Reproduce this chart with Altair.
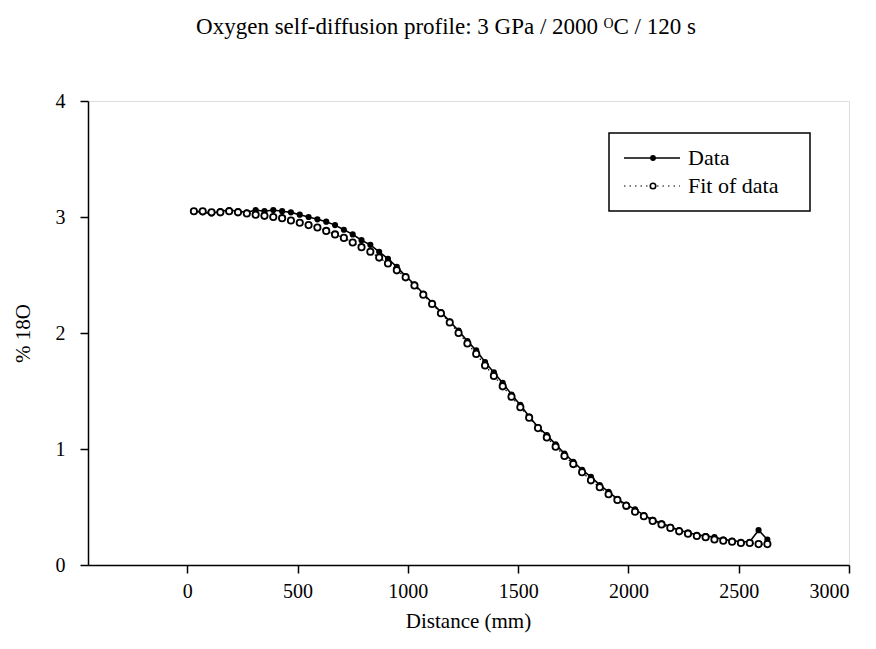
import altair as alt
import pandas as pd

# ---- data ----
distance = [30, 70, 110, 150, 190, 230, 270, 310, 350, 390, 430, 470, 510, 550, 590,
            630, 670, 710, 750, 790, 830, 870, 910, 950, 990, 1030, 1070, 1110, 1150,
            1190, 1230, 1270, 1310, 1350, 1390, 1430, 1470, 1510, 1550, 1590, 1630,
            1670, 1710, 1750, 1790, 1830, 1870, 1910, 1950, 1990, 2030, 2070, 2110,
            2150, 2190, 2230, 2270, 2310, 2350, 2390, 2430, 2470, 2510, 2550, 2590, 2630]

data_vals = [3.05, 3.04, 3.03, 3.05, 3.06, 3.05, 3.04, 3.06, 3.05, 3.06, 3.05, 3.04, 3.02,
             3.00, 2.98, 2.96, 2.93, 2.89, 2.85, 2.80, 2.76, 2.70, 2.64, 2.57, 2.49, 2.42,
             2.34, 2.26, 2.18, 2.10, 2.02, 1.93, 1.85, 1.75, 1.66, 1.57, 1.47, 1.38, 1.28,
             1.19, 1.12, 1.04, 0.96, 0.89, 0.82, 0.76, 0.69, 0.63, 0.57, 0.52, 0.48, 0.43,
             0.39, 0.36, 0.33, 0.30, 0.28, 0.26, 0.25, 0.24, 0.22, 0.21, 0.20, 0.20, 0.30, 0.22]

fit_vals = [3.05, 3.05, 3.04, 3.04, 3.05, 3.04, 3.03, 3.02, 3.01, 3.00, 2.99, 2.97, 2.95,
            2.93, 2.91, 2.88, 2.85, 2.82, 2.78, 2.74, 2.70, 2.65, 2.60, 2.54, 2.48, 2.41,
            2.33, 2.25, 2.17, 2.09, 2.00, 1.91, 1.82, 1.72, 1.63, 1.54, 1.45, 1.36, 1.27,
            1.18, 1.10, 1.02, 0.94, 0.87, 0.80, 0.73, 0.67, 0.61, 0.56, 0.51, 0.46, 0.42,
            0.38, 0.35, 0.32, 0.29, 0.27, 0.25, 0.24, 0.22, 0.21, 0.20, 0.19, 0.19, 0.18, 0.18]

x_ticks = [0, 500, 1000, 1500, 2000, 2500, 3000]
y_ticks = [0, 1, 2, 3, 4]
legend_labels = ["Data", "Fit of data"]
title_text = "Oxygen self-diffusion profile: 3 GPa / 2000 \u1d3cC / 120 s"

df = pd.DataFrame({"distance": distance, "data": data_vals, "fit": fit_vals})

FONT = "Liberation Serif"
W, H = 761, 464

xscale = alt.Scale(domain=[-450, 3000], nice=False, zero=False)
yscale = alt.Scale(domain=[0, 4], nice=False)

xaxis = alt.Axis(values=x_ticks, format="d", title="Distance (mm)", grid=False, tickSize=8,
                 tickColor="black", domainColor="black", domainWidth=1.5, tickWidth=1.5,
                 labelFont=FONT, labelFontSize=20, labelColor="black", labelPadding=8,
                 titleFont=FONT, titleFontSize=21, titleFontWeight="normal", titleColor="black",
                 titleX=380, titleY=56, titleBaseline="middle", titleAlign="center")
yaxis = alt.Axis(values=y_ticks, format="d", title="% 18O", grid=False, tickSize=8,
                 tickColor="black", domainColor="black", domainWidth=1.5, tickWidth=1.5,
                 labelFont=FONT, labelFontSize=20, labelColor="black", labelPadding=15,
                 titleFont=FONT, titleFontSize=21, titleFontWeight="normal", titleColor="black",
                 titleX=-65, titleY=232, titleBaseline="middle", titleAlign="center")

base = alt.Chart(df)

data_line = base.mark_line(color="black", strokeWidth=1.6).encode(
    x=alt.X("distance:Q", scale=xscale, axis=xaxis),
    y=alt.Y("data:Q", scale=yscale, axis=yaxis),
)
data_pts = base.mark_point(filled=True, color="black", size=38, opacity=1).encode(
    x=alt.X("distance:Q", scale=xscale), y=alt.Y("data:Q", scale=yscale))
fit_line = base.mark_line(color="black", strokeWidth=1.2, strokeDash=[1.5, 3]).encode(
    x=alt.X("distance:Q", scale=xscale), y=alt.Y("fit:Q", scale=yscale))
fit_pts = base.mark_point(filled=False, fill="white", fillOpacity=1, stroke="black",
                          strokeWidth=1.8, size=40, opacity=1).encode(
    x=alt.X("distance:Q", scale=xscale), y=alt.Y("fit:Q", scale=yscale))

one = alt.InlineData(values=[{"k": 1}])

# legend (decoration, in pixels)
box = alt.Chart(one).mark_rect(fill="white", stroke="black", strokeWidth=1.5).encode(
    x=alt.value(521), x2=alt.value(722), y=alt.value(32), y2=alt.value(110))
leg_line1 = alt.Chart(one).mark_rule(color="black", strokeWidth=1.6).encode(
    x=alt.value(536), x2=alt.value(592), y=alt.value(57))
leg_pt1 = alt.Chart(one).mark_point(filled=True, color="black", size=34, opacity=1).encode(
    x=alt.value(565), y=alt.value(57))
leg_line2 = alt.Chart(one).mark_rule(color="black", strokeWidth=1.2, strokeDash=[1.5, 4]).encode(
    x=alt.value(536), x2=alt.value(592), y=alt.value(85))
leg_pt2 = alt.Chart(one).mark_point(filled=False, fill="white", fillOpacity=1, stroke="black",
                                    strokeWidth=1.6, size=30, opacity=1).encode(
    x=alt.value(565), y=alt.value(85))
leg_txt1 = alt.Chart(one).mark_text(font=FONT, fontSize=22, align="left", baseline="middle",
                                    color="black").encode(
    x=alt.value(600), y=alt.value(57), text=alt.value(legend_labels[0]))
leg_txt2 = alt.Chart(one).mark_text(font=FONT, fontSize=22, align="left", baseline="middle",
                                    color="black").encode(
    x=alt.value(600), y=alt.value(85), text=alt.value(legend_labels[1]))

title = alt.Chart(one).mark_text(font=FONT, fontSize=23, align="center", baseline="middle",
                                 color="black").encode(
    x=alt.value(358), y=alt.value(-74), text=alt.value(title_text))

chart = alt.layer(
    data_line, data_pts, fit_line, fit_pts,
    box, leg_line1, leg_pt1, leg_line2, leg_pt2, leg_txt1, leg_txt2, title
).properties(
    width=W, height=H,
    autosize=alt.AutoSizeParams(type="none"),
    padding={"left": 80, "top": 93, "right": 19, "bottom": 76},
).configure_view(
    stroke="black", strokeWidth=1.5
).configure(background="white")

chart.save("out.html", embed_options={"renderer": "svg", "actions": False})
